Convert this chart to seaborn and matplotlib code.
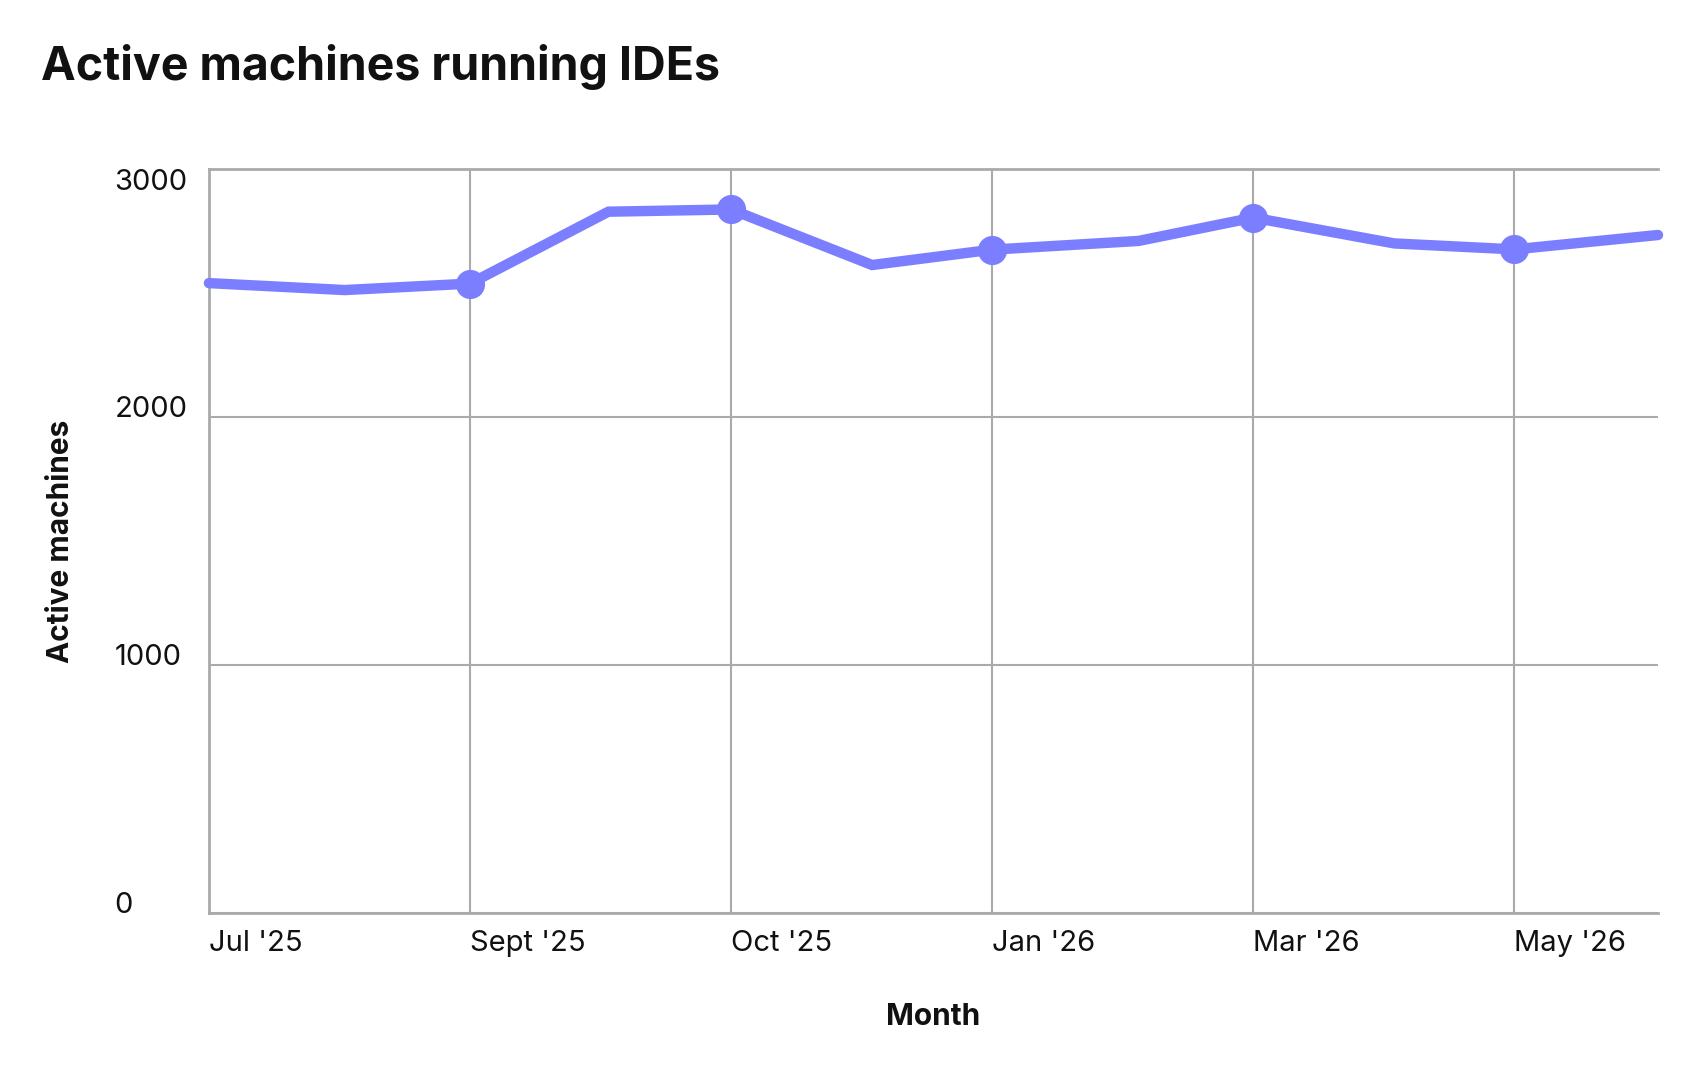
import matplotlib
matplotlib.use("Agg")
import matplotlib.pyplot as plt
import seaborn as sns
import pandas as pd

# Data
month_pos = [0.0, 0.52, 1.0, 1.53, 2.0, 2.54, 3.0, 3.56, 4.0, 4.54, 5.0, 5.55]
active_machines = [2540, 2512, 2538, 2828, 2837, 2613, 2675, 2710, 2804, 2700, 2676, 2734]
marked_points = [2, 4, 6, 8, 10]
tick_pos = [0, 1, 2, 3, 4, 5]
tick_labels = ["Jul '25", "Sept '25", "Oct '25", "Jan '26", "Mar '26", "May '26"]
y_ticks = [0, 1000, 2000, 3000]

sns.set_theme(style="white")
plt.rcParams["font.family"] = ["Inter", "DejaVu Sans"]

df = pd.DataFrame({"Month": month_pos, "Active machines": active_machines})

fig = plt.figure(figsize=(17, 10.76), dpi=100)
ax = fig.add_axes([0.1229, 0.1515, 0.8524, 0.6914])

line_color = "#7B7FFF"
grid_color = "#AAAAAA"

sns.lineplot(data=df, x="Month", y="Active machines", ax=ax, color=line_color,
             linewidth=7.5, marker="o", markersize=21, markevery=marked_points,
             markeredgewidth=0, solid_joinstyle="miter", clip_on=False, zorder=3)

ax.set_xlim(month_pos[0], month_pos[-1])
ax.set_ylim(0, 3000)
ax.set_xticks(tick_pos)
ax.set_xticklabels(tick_labels, ha="left")
ax.set_yticks(y_ticks)
ax.set_yticklabels([str(v) for v in y_ticks], ha="left")

for lab, v in zip(ax.get_yticklabels(), y_ticks):
    lab.set_va("top" if v == 3000 else "baseline")

ax.tick_params(axis="y", length=0, pad=68, labelsize=21, labelcolor="#111111")
ax.tick_params(axis="x", length=0, pad=12, labelsize=21, labelcolor="#111111")

ax.grid(True, axis="both", color=grid_color, linewidth=1.5)
ax.set_axisbelow(True)

for side in ["left", "bottom", "top"]:
    ax.spines[side].set_visible(True)
    ax.spines[side].set_color(grid_color)
    ax.spines[side].set_linewidth(2)
ax.spines["right"].set_visible(False)

ax.set_xlabel("Month", fontsize=21.5, fontweight="bold", color="#111111")
ax.set_ylabel("Active machines", fontsize=21.5, fontweight="bold", color="#111111")
ax.xaxis.label.set_va("center")
ax.yaxis.label.set_va("center")
ax.xaxis.set_label_coords(0.5, -0.14)
ax.yaxis.set_label_coords(-0.1018, 0.5)

fig.text(0.0241, 0.9257, "Active machines running IDEs", fontsize=33.5,
         fontweight="bold", ha="left", va="baseline", color="#111111")

fig.savefig("out.png", dpi=100, facecolor="white")
